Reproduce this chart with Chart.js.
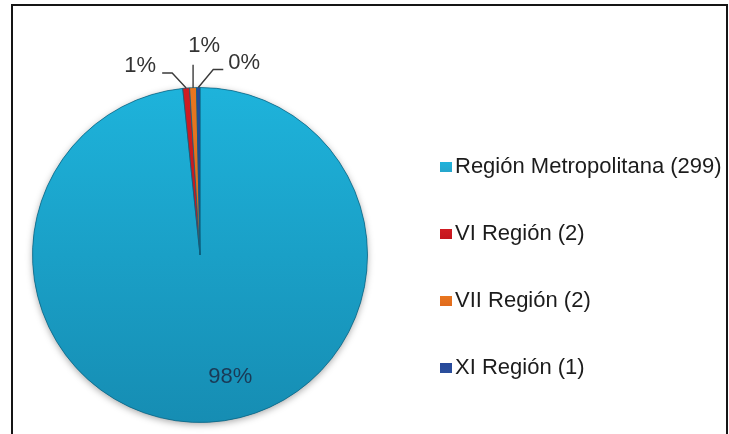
<!DOCTYPE html>
<html>
<head>
<meta charset="utf-8">
<script src="https://cdn.jsdelivr.net/npm/chart.js@4/dist/chart.umd.min.js"></script>
<style>
  body { margin: 0; background: #fff; }
  #wrap { position: relative; width: 729px; height: 434px; overflow: hidden; font-family: "Liberation Sans", Arial, sans-serif; }
  #frame { position: absolute; left: 11px; top: 4px; width: 713px; height: 480px; border: 2px solid #151515; }
  #pie { position: absolute; left: 0; top: 0; }
  #legend { position: absolute; left: 440px; top: 132px; }
  .item { height: 67px; line-height: 67px; font-size: 22px; color: #1c1c1c; white-space: nowrap; }
  .box { display: inline-block; width: 12px; height: 10px; margin-right: 3px; vertical-align: 1px; }
</style>
</head>
<body>
<div id="wrap">
  <div id="frame"></div>
  <canvas id="pie" width="729" height="434"></canvas>
  <div id="legend"></div>
</div>
<script>
const categories = ["Región Metropolitana (299)", "VI Región (2)", "VII Región (2)", "XI Región (1)"];
const counts = [299, 2, 2, 1];
const sliceTop = ["#1eb3db", "#d01c22", "#e8761f", "#26489a"];
const sliceBottom = ["#168db3", "#b3131a", "#d0621a", "#1d3a7e"];
const legendColors = ["#26a6cc", "#c4151d", "#e06a1d", "#2b4f9c"];

var total = counts.reduce((a, b) => a + b, 0);
var percents = counts.map(v => Math.round(v / total * 100) + "%");

// leader lines for the small slices: points relative to the slice edge, then label spot
var leaders = [
  null,
  { pts: [[0, 0], [-14, -15], [-24, -15]], text: [-30, -22], align: "right" },
  { pts: [[0, 0], [0, -23]], text: [11, -42], align: "center" },
  { pts: [[0, 0], [15, -18], [25, -18]], text: [30, -25], align: "left" }
];

var legend = document.getElementById("legend");
categories.forEach(function (name, i) {
  var row = document.createElement("div");
  row.className = "item";
  var box = document.createElement("span");
  box.className = "box";
  box.style.background = "linear-gradient(" + sliceTop[i] + "," + legendColors[i] + ")";
  row.appendChild(box);
  row.appendChild(document.createTextNode(name));
  legend.appendChild(row);
});

const pieShadow = {
  id: "pieShadow",
  beforeDatasetsDraw(chart) {
    var arc = chart.getDatasetMeta(0).data[0];
    if (!arc) return;
    var ctx = chart.ctx;
    ctx.save();
    ctx.shadowColor = "rgba(0,0,0,0.35)";
    ctx.shadowBlur = 7;
    ctx.shadowOffsetY = 2;
    ctx.fillStyle = "#1790b5";
    ctx.beginPath();
    ctx.arc(arc.x, arc.y, arc.outerRadius, 0, Math.PI * 2);
    ctx.fill();
    ctx.restore();
  }
};

const pctLabels = {
  id: "pctLabels",
  afterDraw(chart) {
    var ctx = chart.ctx;
    ctx.save();
    ctx.font = "22px 'Liberation Sans', Arial, sans-serif";
    ctx.textBaseline = "middle";
    chart.getDatasetMeta(0).data.forEach(function (arc, i) {
      var p = arc.getProps(["x", "y", "startAngle", "endAngle", "outerRadius"], true);
      var mid = (p.startAngle + p.endAngle) / 2;
      var L = leaders[i];
      if (!L) {
        var r = p.outerRadius * 0.73;
        ctx.fillStyle = "#1a3a56";
        ctx.textAlign = "center";
        ctx.fillText(percents[i], p.x + Math.cos(mid) * r + 24, p.y + Math.sin(mid) * r);
        return;
      }
      var ex = p.x + Math.cos(mid) * p.outerRadius;
      var ey = p.y + Math.sin(mid) * p.outerRadius;
      ctx.strokeStyle = "#3a3a3a";
      ctx.lineWidth = 1.4;
      ctx.beginPath();
      L.pts.forEach(function (pt, k) {
        if (k === 0) ctx.moveTo(ex + pt[0], ey + pt[1]);
        else ctx.lineTo(ex + pt[0], ey + pt[1]);
      });
      ctx.stroke();
      ctx.fillStyle = "#333";
      ctx.textAlign = L.align;
      ctx.fillText(percents[i], ex + L.text[0], ey + L.text[1]);
    });
    ctx.restore();
  }
};

var ctx = document.getElementById("pie").getContext("2d");
var pieChart = new Chart(ctx, {
  type: "pie",
  data: {
    labels: categories,
    datasets: [{
      data: counts,
      backgroundColor: function (c) {
        var area = c.chart.chartArea;
        if (!area) return sliceTop[c.dataIndex];
        var g = c.chart.ctx.createLinearGradient(0, area.top, 0, area.bottom);
        g.addColorStop(0, sliceTop[c.dataIndex]);
        g.addColorStop(1, sliceBottom[c.dataIndex]);
        return g;
      },
      borderColor: "rgba(12,95,125,0.7)",
      borderWidth: 1
    }]
  },
  options: {
    responsive: false,
    animation: false,
    layout: { padding: { left: 32, top: 87, right: 361, bottom: 11 } },
    plugins: {
      legend: { display: false },
      tooltip: { enabled: false }
    }
  },
  plugins: [pieShadow, pctLabels]
});
</script>
</body>
</html>
